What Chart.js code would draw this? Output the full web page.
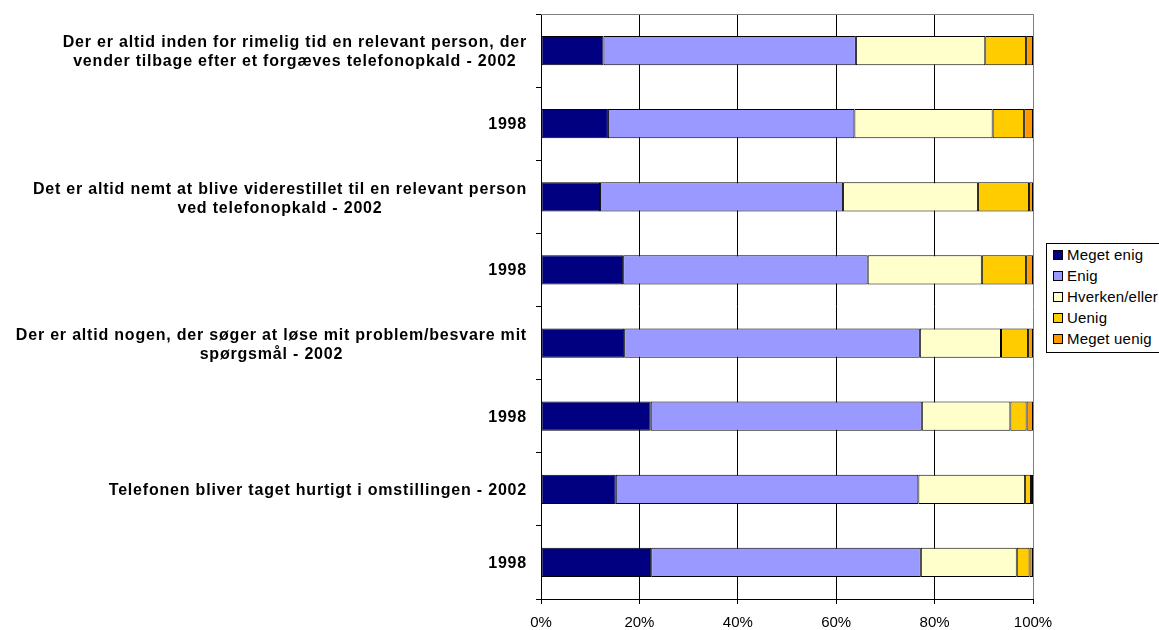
<!DOCTYPE html>
<html>
<head>
<meta charset="utf-8">
<script src="https://cdn.jsdelivr.net/npm/chart.js@4/dist/chart.umd.min.js"></script>
<style>
    html, body { margin: 0; padding: 0; background: #fff; overflow: hidden; }
    #wrap { position: relative; width: 1159px; height: 630px; overflow: hidden; }
    #legend {
        position: absolute; left: 1046px; top: 243px; width: 140px; height: 108px;
        border: 1px solid #000; background: #fff; box-sizing: content-box;
        font: 15px Arial, "Liberation Sans", sans-serif; color: #000;
    }
    #legend div { height: 21px; line-height: 21px; white-space: nowrap; padding-left: 6px; letter-spacing: 0.2px; }
    #legend span {
        display: inline-block; width: 8px; height: 8px; border: 1px solid #000;
        margin-right: 4px; vertical-align: 0px;
    }
</style>
</head>
<body>
<div id="wrap">
    <canvas id="chart" width="1159" height="630"></canvas>
    <div id="legend"></div>
</div>
<script>
const categories = [
    ['Der er altid inden for rimelig tid en relevant person, der', 'vender tilbage efter et forgæves telefonopkald - 2002'],
    ['1998'],
    ['Det er altid nemt at blive viderestillet til en relevant person', 'ved telefonopkald - 2002'],
    ['1998'],
    ['Der er altid nogen, der søger at løse mit problem/besvare mit', 'spørgsmål - 2002'],
    ['1998'],
    ['Telefonen bliver taget hurtigt i omstillingen - 2002'],
    ['1998'],
];

const seriesNames = ['Meget enig', 'Enig', 'Hverken/eller', 'Uenig', 'Meget uenig'];
const seriesColors = ['#000080', '#9999FF', '#FFFFCC', '#FFCC00', '#FF9900'];

const megetEnig  = [12.7, 13.6, 12.0, 16.7, 16.9, 22.3, 15.2, 22.4];
const enig       = [51.3, 50.1, 49.4, 49.7, 60.1, 55.1, 61.5, 54.8];
const hverken    = [26.3, 28.1, 27.4, 23.2, 16.5, 18.0, 21.7, 19.5];
const uenig      = [8.3, 6.4, 10.4, 9.0, 5.5, 3.3, 1.2, 2.6];
const megetUenig = [1.4, 1.8, 0.8, 1.4, 1.0, 1.3, 0.4, 0.7];

const tickValues = [0, 20, 40, 60, 80, 100];

const FONT = 'Arial, "Liberation Sans", sans-serif';

const seriesValues = [megetEnig, enig, hverken, uenig, megetUenig];
const datasets = seriesNames.map((name, i) => ({
    label: name,
    data: seriesValues[i],
    backgroundColor: seriesColors[i],
    borderColor: '#000',
    borderWidth: 1,
    borderSkipped: false,
    categoryPercentage: 1,
    barPercentage: 0.4,
}));

// legend as html, same order as series
const legendEl = document.getElementById('legend');
seriesNames.forEach((name, i) => {
    const row = document.createElement('div');
    const box = document.createElement('span');
    box.style.background = seriesColors[i];
    row.appendChild(box);
    row.appendChild(document.createTextNode(name));
    legendEl.appendChild(row);
});

// y labels: block right aligned, lines centered within the block
const categoryLabels = {
    id: 'categoryLabels',
    afterDraw(chart) {
        const ctx = chart.ctx;
        const yScale = chart.scales.y;
        const rightEdge = chart.chartArea.left - 14;
        const lineHeight = 19;
        ctx.save();
        ctx.font = 'bold 16px ' + FONT;
        ctx.letterSpacing = '0.8px';
        ctx.fillStyle = '#000';
        ctx.textAlign = 'center';
        ctx.textBaseline = 'middle';
        categories.forEach((lines, i) => {
            const y = yScale.getPixelForValue(i) + (lines.length > 1 ? 2 : 1);
            const maxW = Math.max(...lines.map(l => ctx.measureText(l).width));
            const cx = rightEdge - maxW / 2;
            const startY = y - (lines.length - 1) * lineHeight / 2;
            lines.forEach((line, j) => {
                ctx.fillText(line, cx, startY + j * lineHeight);
            });
        });
        ctx.restore();
    }
};

const plotBorder = {
    id: 'plotBorder',
    afterDatasetsDraw(chart) {
        const { ctx, chartArea } = chart;
        ctx.save();
        ctx.strokeStyle = '#808080';
        ctx.lineWidth = 1;
        ctx.beginPath();
        ctx.moveTo(chartArea.left, Math.round(chartArea.top) + 0.5);
        ctx.lineTo(chartArea.right, Math.round(chartArea.top) + 0.5);
        ctx.stroke();
        ctx.restore();
    }
};

new Chart(document.getElementById('chart').getContext('2d'), {
    type: 'bar',
    data: {
        labels: categories.map(c => c.join(' ')),
        datasets,
    },
    options: {
        indexAxis: 'y',
        responsive: false,
        animation: false,
        layout: {
            padding: { top: 14, right: 126, left: 0, bottom: 0 },
        },
        scales: {
            x: {
                stacked: true,
                min: 0,
                max: 100,
                afterBuildTicks: (scale) => {
                    scale.ticks = tickValues.map(v => ({ value: v }));
                },
                afterFit: (scale) => { scale.height = 31; },
                grid: {
                    color: (c) => c.tick && c.tick.value === 100 ? '#808080' : '#000',
                    drawTicks: true,
                    tickLength: 5,
                    tickColor: '#000',
                },
                border: { color: '#000' },
                ticks: {
                    color: '#000',
                    padding: 10,
                    font: { family: FONT, size: 15 },
                    callback: (v) => v + '%',
                    maxRotation: 0,
                },
            },
            y: {
                stacked: true,
                afterFit: (scale) => { scale.width = 541; },
                grid: {
                    offset: true,
                    drawOnChartArea: false,
                    drawTicks: true,
                    tickLength: 5,
                    tickColor: '#000',
                },
                border: { color: '#000' },
                ticks: { display: false },
            },
        },
        plugins: {
            legend: { display: false },
            tooltip: { enabled: false },
        },
    },
    plugins: [categoryLabels, plotBorder],
});
</script>
</body>
</html>
